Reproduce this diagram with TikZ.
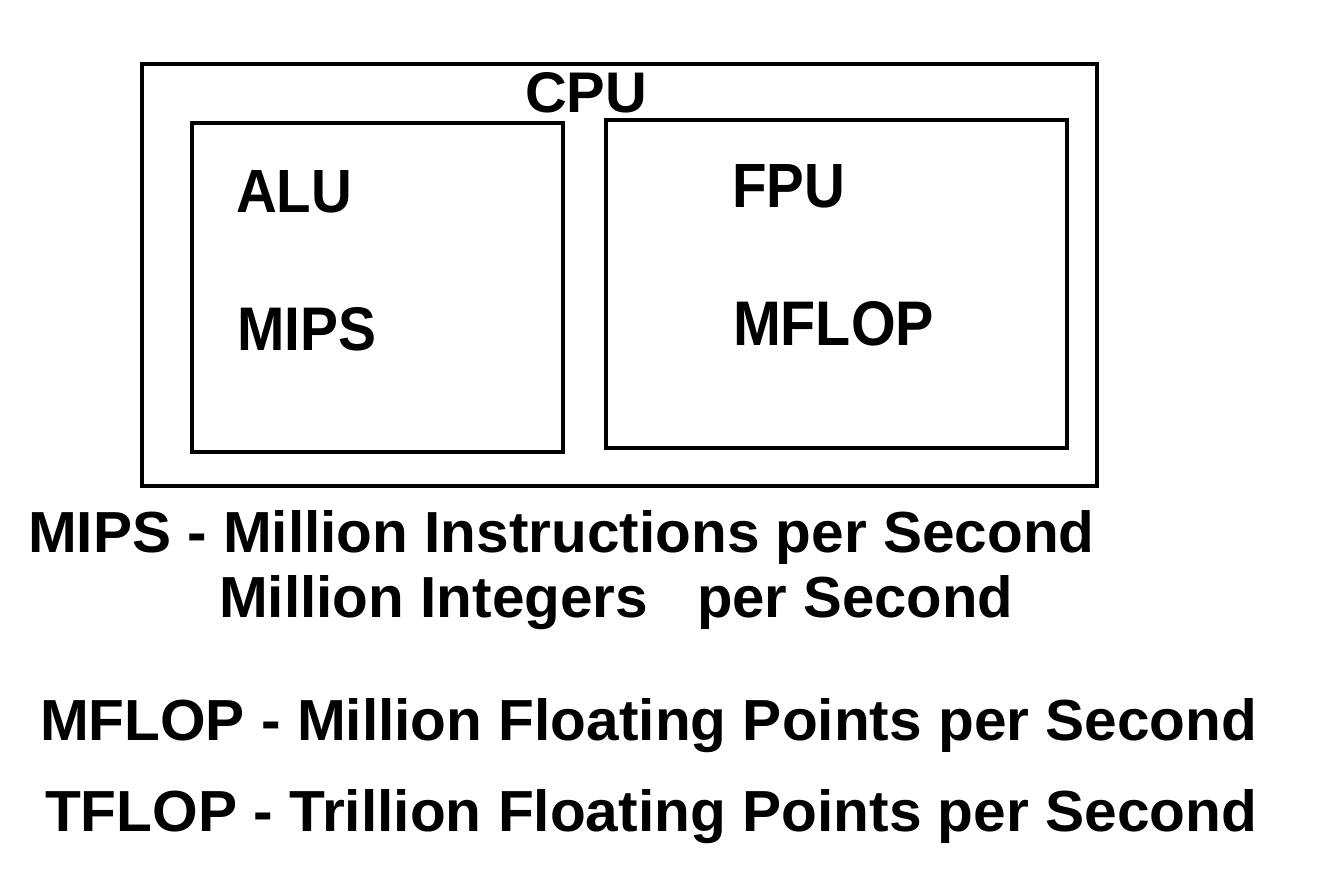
\documentclass[tikz,border=0pt]{standalone}
\usepackage{fontspec}
\setmainfont{Liberation Sans}
\usepackage{graphicx}
\begin{document}
\begin{tikzpicture}[x=1pt,y=-1pt,
  unitbox/.style={draw=black, line width=4.5pt, rectangle, inner sep=0pt, outer sep=0pt, anchor=north west},
  label/.style={inner sep=0pt, outer sep=0pt, anchor=base west, font=\bfseries}]
  % canvas
  \fill[white] (0,0) rectangle (1330,886);
  \useasboundingbox (0,0) rectangle (1330,886);

  % CPU with its two units
  \node[unitbox, minimum width=955pt, minimum height=422pt] (cpu) at (142,64) {};
  \node[unitbox, minimum width=371pt, minimum height=329pt] (alu) at (192,123) {};
  \node[unitbox, minimum width=461pt, minimum height=328pt] (fpu) at (606,120) {};

  \node[label] (cputxt) at (525,112) {\resizebox{122pt}{40pt}{CPU}};
  \node[label] (alutxt) at (236,212) {\resizebox{116pt}{42pt}{ALU}};
  \node[label] (mipstxt) at (237,350) {\resizebox{139pt}{43pt}{MIPS}};
  \node[label] (faputxt) at (732,207) {\resizebox{113pt}{43pt}{FPU}};
  \node[label] (mfloptxt) at (733,345) {\resizebox{201pt}{44pt}{MFLOP}};

  % definitions below the diagram
  \node[label] (def1) at (28,552) {\resizebox{1066pt}{42pt}{MIPS - Million Instructions per Second}};
  \node[label] (def2a) at (219,617) {\resizebox{429pt}{42pt}{Million Integers}};
  \node[label] (def2b) at (697,617) {\resizebox{316pt}{42pt}{per Second}};
  \node[label] (def3) at (40,740) {\resizebox{1217pt}{42pt}{MFLOP - Million Floating Points per Second}};
  \node[label] (def4) at (45,831) {\resizebox{1212pt}{42pt}{TFLOP - Trillion Floating Points per Second}};
\end{tikzpicture}
\end{document}
